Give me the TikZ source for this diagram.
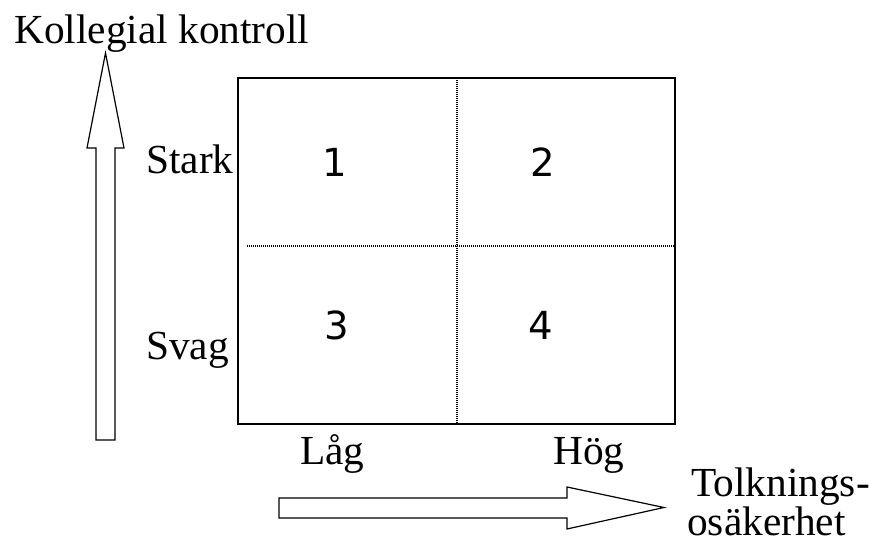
\documentclass[tikz,border=0pt]{standalone}
\usepackage{fontspec}
\setmainfont{Liberation Serif}
\newfontfamily\digitfont{DejaVu Sans}
\tikzset{
    lbl/.style={font=\fontsize{31}{36}\selectfont, inner sep=0pt, anchor=base west},
    num/.style={font=\digitfont\fontsize{29}{34}\selectfont, inner sep=0pt},
    blockarrow/.style={draw, line width=0.9pt, fill=white},
    frame/.style={draw, line width=1pt, minimum width=327.75pt, minimum height=259.5pt, inner sep=0pt},
    split/.style={line width=1.5pt, dash pattern=on 1pt off 0.5pt}
}
\begin{document}
\begin{tikzpicture}[x=0.75pt,y=-0.75pt]
    \useasboundingbox (0,0) rectangle (869,548);
    % axes
    \node[lbl] (kk) at (14,44) {Kollegial kontroll};
    \draw[blockarrow] (96,440) -- (96,148) -- (87,148) -- (105.5,53)
        -- (124,148) -- (115,148) -- (115,440) -- cycle;
    \draw[blockarrow] (279,498) -- (567,498) -- (567,487) -- (664,507.5)
        -- (567,529) -- (567,518) -- (279,518) -- cycle;
    \node[lbl] (tolk) at (691,497) {Tolknings-};
    \node[lbl] (osak) at (687,536) {osäkerhet};
    % grid
    \node[frame] (grid) at (456.5,251) {};
    \draw[split] (456.5,78) -- (456.5,424);
    \draw[split] (247,246) -- (675,246);
    \node[lbl] (stark) at (146,174) {Stark};
    \node[lbl] (svag) at (146,360) {Svag};
    \node[lbl] (lag) at (300,465) {Låg};
    \node[lbl] (hog) at (553,465) {Hög};
    \node[num] (c1) at (335,162) {1};
    \node[num] (c2) at (543,162) {2};
    \node[num] (c3) at (337,325) {3};
    \node[num] (c4) at (541,325) {4};
\end{tikzpicture}
\end{document}
